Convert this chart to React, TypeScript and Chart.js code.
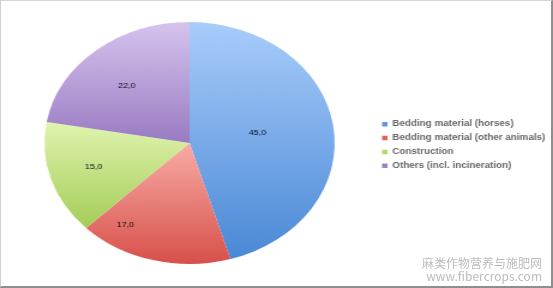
import React, { useEffect, useRef } from "react";
import { Chart, registerables } from "chart.js";

Chart.register(...registerables);

// ---- data ----
const categories = [
  "Bedding material (horses)",
  "Bedding material (other animals)",
  "Construction",
  "Others (incl. incineration)",
];
const values = [45, 17, 15, 22];

// ---- style ----
const legendColors = ["#5f98dc", "#e2605a", "#b4d86a", "#9c82c8"];
const topColors = ["#a9cdfb", "#f8aca6", "#e0f4ae", "#d6c4ee"];
const bottomColors = ["#4a88d6", "#d8504a", "#a4cc58", "#997bc2"];
const labelAngleFrac = [0.49, 0.8, 0.51, 0.47];
const labelRadiusFrac = [0.475, 0.81, 0.69, 0.64];

const fmt = (v: number) => v.toFixed(1).replace(".", ",");

function sliceGradient(chart: any, i: number) {
  const area = chart.chartArea;
  if (!area) return legendColors[i];
  const cx = (area.left + area.right) / 2;
  const cy = (area.top + area.bottom) / 2;
  const r = Math.min(area.right - area.left, area.bottom - area.top) / 2;
  const total = values.reduce((a, b) => a + b, 0);
  let before = 0;
  for (let j = 0; j < i; j++) before += values[j];
  const a0 = (before / total) * Math.PI * 2;
  const a1 = ((before + values[i]) / total) * Math.PI * 2;
  let minY = cy;
  let maxY = cy;
  const steps = 90;
  for (let k = 0; k <= steps; k++) {
    const t = a0 + ((a1 - a0) * k) / steps;
    const y = cy - r * Math.cos(t);
    if (y < minY) minY = y;
    if (y > maxY) maxY = y;
  }
  const g = chart.ctx.createLinearGradient(0, minY, 0, maxY);
  g.addColorStop(0, topColors[i]);
  g.addColorStop(1, bottomColors[i]);
  return g;
}

const labelPlugin = {
  id: "sliceLabels",
  afterDatasetsDraw(chart: any) {
    const ctx = chart.ctx;
    const meta = chart.getDatasetMeta(0);
    ctx.save();
    ctx.font = '7.4px "Liberation Sans", Arial, sans-serif';
    ctx.fillStyle = "#0a0a18";
    ctx.textAlign = "center";
    ctx.textBaseline = "middle";
    meta.data.forEach((arc: any, i: number) => {
      const p = arc.getProps(["x", "y", "startAngle", "endAngle", "outerRadius"], true);
      const a = p.startAngle + (p.endAngle - p.startAngle) * labelAngleFrac[i];
      const d = p.outerRadius * labelRadiusFrac[i];
      ctx.fillText(fmt(values[i]), p.x + Math.cos(a) * d, p.y + Math.sin(a) * d);
    });
    ctx.restore();
  },
};

export default function App() {
  const ref = useRef<HTMLCanvasElement | null>(null);

  useEffect(() => {
    if (!ref.current) return;
    const chart = new Chart(ref.current, {
      type: "pie",
      data: {
        labels: categories,
        datasets: [
          {
            data: values,
            backgroundColor: (c: any) => sliceGradient(c.chart, c.dataIndex),
            borderWidth: 0,
          },
        ],
      },
      options: {
        responsive: false,
        animation: false,
        events: [],
        layout: { padding: { left: 3.2, right: -3.5, top: 22, bottom: 24 } },
        plugins: {
          tooltip: { enabled: false },
          legend: {
            position: "right",
            align: "center",
            title: {
              display: true,
              text: " ",
              font: { size: 4, lineHeight: 1 },
              padding: 0,
            },
            labels: {
              boxWidth: 4.5,
              boxHeight: 4.5,
              padding: 5.7,
              color: "#000000",
              font: { family: '"Liberation Sans", Arial, sans-serif', size: 8.2, weight: "bold" },
              generateLabels: () =>
                categories.map((text, i) => ({
                  text,
                  fillStyle: legendColors[i],
                  strokeStyle: legendColors[i],
                  lineWidth: 0,
                  hidden: false,
                  index: i,
                  datasetIndex: 0,
                })),
            },
          },
        },
      } as any,
      plugins: [labelPlugin],
    });
    return () => chart.destroy();
  }, []);

  return (
    <div style={{ position: "absolute", left: 0, top: 0, width: 553, height: 288, background: "#fff" }}>
      <div
        style={{
          position: "absolute",
          left: 0,
          top: 0,
          width: 461,
          height: 288,
          transform: "scaleX(1.1996)",
          transformOrigin: "0 0",
        }}
      >
        <canvas ref={ref} width={461} height={288} style={{ display: "block", width: 461, height: 288 }} />
      </div>
      <div
        style={{
          position: "absolute",
          left: 0,
          top: 0,
          width: 553,
          height: 288,
          boxSizing: "border-box",
          borderLeft: "1px solid #cfcfcf",
          borderTop: "1px solid #d4d4d4",
          borderRight: "2px solid #8e8e8e",
          borderBottom: "2px solid #8e8e8e",
          pointerEvents: "none",
        }}
      />
      <div
        style={{
          position: "absolute",
          right: 11,
          top: 256,
          textAlign: "right",
          color: "#bcbcbc",
          fontFamily: '"Noto Sans CJK SC", "Noto Sans", sans-serif',
          fontSize: 12,
          lineHeight: "13px",
        }}
      >
        <div>麻类作物营养与施肥网</div>
        <div>www.fibercrops.com</div>
      </div>
    </div>
  );
}
